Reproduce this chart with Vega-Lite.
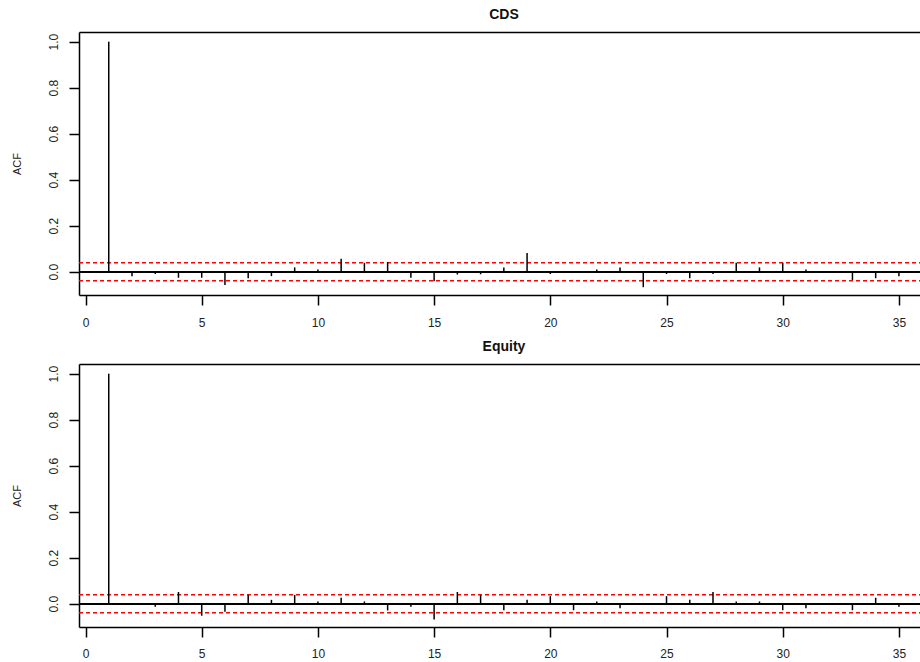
{
  "$schema": "https://vega.github.io/schema/vega-lite/v6.json",
  "background": "white",
  "padding": {"left": 11, "top": 8, "right": 0, "bottom": 0},
  "datasets": {
    "cds": [
      {"lag": 1, "acf": 1.0}, {"lag": 2, "acf": -0.019}, {"lag": 3, "acf": -0.010}, {"lag": 4, "acf": -0.026},
      {"lag": 5, "acf": -0.026}, {"lag": 6, "acf": -0.057}, {"lag": 7, "acf": -0.028}, {"lag": 8, "acf": -0.019},
      {"lag": 9, "acf": 0.019}, {"lag": 10, "acf": 0.010}, {"lag": 11, "acf": 0.057}, {"lag": 12, "acf": 0.039},
      {"lag": 13, "acf": 0.042}, {"lag": 14, "acf": -0.026}, {"lag": 15, "acf": -0.041}, {"lag": 16, "acf": -0.012},
      {"lag": 17, "acf": -0.011}, {"lag": 18, "acf": 0.019}, {"lag": 19, "acf": 0.081}, {"lag": 20, "acf": -0.010},
      {"lag": 21, "acf": 0.003}, {"lag": 22, "acf": 0.010}, {"lag": 23, "acf": 0.019}, {"lag": 24, "acf": -0.067},
      {"lag": 25, "acf": -0.010}, {"lag": 26, "acf": -0.028}, {"lag": 27, "acf": -0.010}, {"lag": 28, "acf": 0.039},
      {"lag": 29, "acf": 0.019}, {"lag": 30, "acf": 0.039}, {"lag": 31, "acf": 0.010}, {"lag": 32, "acf": 0.002},
      {"lag": 33, "acf": -0.036}, {"lag": 34, "acf": -0.028}, {"lag": 35, "acf": -0.019}
    ],
    "equity": [
      {"lag": 1, "acf": 1.0}, {"lag": 2, "acf": 0.002}, {"lag": 3, "acf": -0.013}, {"lag": 4, "acf": 0.051},
      {"lag": 5, "acf": -0.052}, {"lag": 6, "acf": -0.035}, {"lag": 7, "acf": 0.038}, {"lag": 8, "acf": 0.017},
      {"lag": 9, "acf": 0.038}, {"lag": 10, "acf": 0.010}, {"lag": 11, "acf": 0.026}, {"lag": 12, "acf": 0.010},
      {"lag": 13, "acf": -0.029}, {"lag": 14, "acf": -0.013}, {"lag": 15, "acf": -0.068}, {"lag": 16, "acf": 0.051},
      {"lag": 17, "acf": 0.038}, {"lag": 18, "acf": -0.028}, {"lag": 19, "acf": 0.017}, {"lag": 20, "acf": 0.033},
      {"lag": 21, "acf": -0.028}, {"lag": 22, "acf": 0.010}, {"lag": 23, "acf": -0.020}, {"lag": 24, "acf": 0.002},
      {"lag": 25, "acf": 0.033}, {"lag": 26, "acf": 0.017}, {"lag": 27, "acf": 0.051}, {"lag": 28, "acf": 0.010},
      {"lag": 29, "acf": 0.010}, {"lag": 30, "acf": -0.028}, {"lag": 31, "acf": -0.020}, {"lag": 32, "acf": 0.002},
      {"lag": 33, "acf": -0.028}, {"lag": 34, "acf": 0.026}, {"lag": 35, "acf": -0.013}
    ],
    "bounds": [{"b": 0.039}, {"b": -0.039}]
  },
  "config": {
    "view": {"stroke": null},
    "font": "Liberation Sans",
    "axis": {
      "grid": false,
      "domainColor": "black",
      "domainWidth": 1.5,
      "tickColor": "black",
      "tickWidth": 1.5,
      "labelFont": "Liberation Sans",
      "labelFontSize": 12,
      "labelColor": "#222",
      "titleFont": "Liberation Sans",
      "titleFontSize": 11,
      "titleFontWeight": "normal",
      "titleColor": "#222"
    },
    "title": {"font": "Liberation Sans", "fontSize": 14, "fontWeight": "bold", "color": "#111", "offset": 10, "anchor": "middle", "dx": 4},
    "concat": {"spacing": 12}
  },
  "vconcat": [
    {
      "title": "CDS",
      "width": 842,
      "height": 263,
      "resolve": {"axis": {"x": "independent"}},
      "layer": [
        {
          "data": {"name": "bounds"},
          "mark": {"type": "rule", "color": "red", "strokeWidth": 1.5, "strokeDash": [4, 3]},
          "encoding": {
            "x": {"datum": -0.28, "type": "quantitative", "scale": {"domain": [-0.28, 35.95], "nice": false, "zero": false},
                  "axis": {"orient": "top", "labels": false, "ticks": false, "domain": true, "title": null}},
            "x2": {"datum": 35.95},
            "y": {"field": "b", "type": "quantitative", "title": "ACF"}
          }
        },
        {
          "data": {"name": "cds"},
          "mark": {"type": "rule", "color": "black", "strokeWidth": 1.5},
          "encoding": {
            "y": {"datum": 0, "type": "quantitative", "title": "ACF"}
          }
        },
        {
          "data": {"name": "cds"},
          "mark": {"type": "rule", "color": "black", "strokeWidth": 1.5},
          "encoding": {
            "x": {"field": "lag", "type": "quantitative", "scale": {"domain": [-0.28, 35.95], "nice": false, "zero": false},
                  "axis": {"orient": "bottom", "values": [0, 5, 10, 15, 20, 25, 30, 35], "tickSize": 10, "labelPadding": 12, "title": null, "labelFlush": false}},
            "y": {"field": "acf", "type": "quantitative", "title": "ACF",
                  "scale": {"domain": [-0.101, 1.042], "nice": false, "zero": false},
                  "axis": {"values": [0, 0.2, 0.4, 0.6, 0.8, 1.0], "format": ".1f", "labelAngle": -90, "tickSize": 10, "labelPadding": 9, "titlePadding": 25, "title": "ACF"}},
            "y2": {"datum": 0}
          }
        }
      ]
    },
    {
      "title": "Equity",
      "width": 842,
      "height": 263,
      "resolve": {"axis": {"x": "independent"}},
      "layer": [
        {
          "data": {"name": "bounds"},
          "mark": {"type": "rule", "color": "red", "strokeWidth": 1.5, "strokeDash": [4, 3]},
          "encoding": {
            "x": {"datum": -0.28, "type": "quantitative", "scale": {"domain": [-0.28, 35.95], "nice": false, "zero": false},
                  "axis": {"orient": "top", "labels": false, "ticks": false, "domain": true, "title": null}},
            "x2": {"datum": 35.95},
            "y": {"field": "b", "type": "quantitative", "title": "ACF"}
          }
        },
        {
          "data": {"name": "equity"},
          "mark": {"type": "rule", "color": "black", "strokeWidth": 1.5},
          "encoding": {
            "y": {"datum": 0, "type": "quantitative", "title": "ACF"}
          }
        },
        {
          "data": {"name": "equity"},
          "mark": {"type": "rule", "color": "black", "strokeWidth": 1.5},
          "encoding": {
            "x": {"field": "lag", "type": "quantitative", "scale": {"domain": [-0.28, 35.95], "nice": false, "zero": false},
                  "axis": {"orient": "bottom", "values": [0, 5, 10, 15, 20, 25, 30, 35], "tickSize": 10, "labelPadding": 11, "title": null, "labelFlush": false}},
            "y": {"field": "acf", "type": "quantitative", "title": "ACF",
                  "scale": {"domain": [-0.101, 1.042], "nice": false, "zero": false},
                  "axis": {"values": [0, 0.2, 0.4, 0.6, 0.8, 1.0], "format": ".1f", "labelAngle": -90, "tickSize": 10, "labelPadding": 9, "titlePadding": 25, "title": "ACF"}},
            "y2": {"datum": 0}
          }
        }
      ]
    }
  ]
}
